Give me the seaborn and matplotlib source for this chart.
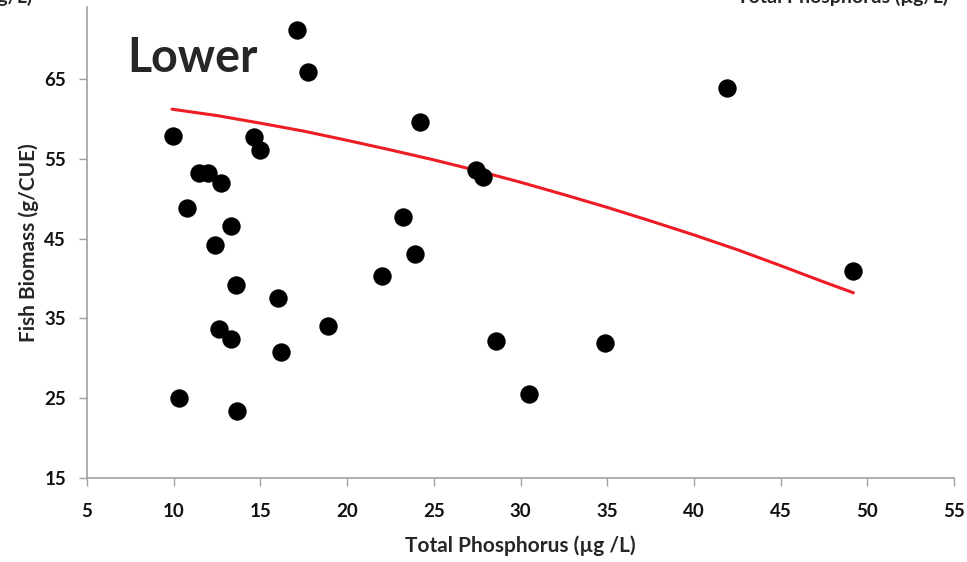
import numpy as np
import pandas as pd
import matplotlib
matplotlib.use("Agg")
import matplotlib.pyplot as plt
import seaborn as sns

# === DATA ===
tp = [9.96, 10.3, 10.77, 11.46, 11.98, 12.73, 12.38, 12.61, 13.3, 13.3,
      13.59, 13.65, 14.63, 14.98, 17.11, 17.75, 16.01, 16.19, 18.9, 22.01,
      23.22, 23.92, 24.2, 27.43, 27.84, 28.59, 30.49, 34.87, 41.9, 49.18]
biomass = [57.9, 25.0, 48.8, 53.2, 53.2, 52.0, 44.2, 33.7, 46.6, 32.4,
           39.2, 23.4, 57.7, 56.1, 71.1, 65.9, 37.6, 30.8, 34.0, 40.3,
           47.7, 43.1, 59.6, 53.6, 52.7, 32.2, 25.5, 31.9, 63.9, 40.9]

trend_x = [9.9, 12.5, 15, 17.5, 20, 22.5, 25, 27.5, 30, 32.5, 35, 37.5, 40, 42.5, 45, 47.5, 49.2]
trend_y = [61.2, 60.4, 59.45, 58.45, 57.3, 56.1, 54.85, 53.5, 52.05, 50.5, 48.9,
           47.2, 45.45, 43.6, 41.6, 39.55, 38.2]

x_ticks = list(range(5, 56, 5))
y_ticks = list(range(15, 66, 10))

pts = pd.DataFrame({"tp": tp, "biomass": biomass})
trend = pd.DataFrame({"tp": trend_x, "biomass": trend_y})

sns.set_style("ticks")
plt.rcParams['font.family'] = ['Lato', 'DejaVu Sans']

fig = plt.figure(figsize=(9.67, 5.62), dpi=100)
ax = fig.add_axes([0.09, 0.1495, 0.8966, 0.838])

sns.lineplot(data=trend, x="tp", y="biomass", ax=ax, color="#ee1c24", linewidth=2.2, zorder=2)
sns.scatterplot(data=pts, x="tp", y="biomass", ax=ax, color="black", s=175,
                edgecolor="black", linewidth=0, zorder=3)

ax.set_xlim(5, 55)
ax.set_ylim(15, 74)
ax.set_xticks(x_ticks)
ax.set_yticks(y_ticks)
ax.tick_params(axis="both", labelsize=13.5, length=6, width=1, color="#a0a0a0",
               labelcolor="#111111")
ax.tick_params(axis="x", pad=12)
ax.tick_params(axis="y", pad=9)
for lab in ax.get_xticklabels() + ax.get_yticklabels():
    lab.set_fontweight("bold")

for s in ["top", "right"]:
    ax.spines[s].set_visible(False)
for s in ["left", "bottom"]:
    ax.spines[s].set_color("#a0a0a0")
    ax.spines[s].set_linewidth(1.2)

ax.set_xlabel("Total Phosphorus (µg /L)", fontsize=15, fontweight="bold", labelpad=11)
ax.set_ylabel("Fish Biomass (g/CUE)", fontsize=15, fontweight="bold", labelpad=4)

ax.text(127 / 967, 1 - 72 / 562, "Lower", transform=fig.transFigure,
        fontsize=33.5, fontweight="bold", ha="left", va="baseline")

# bits of the neighbouring panel cut off at the top edge
fig.text(33 / 967, 1 - 3 / 562, "(µg/L)", fontsize=14, fontweight="bold",
         ha="right", va="baseline")
fig.text(948 / 967, 1 - 3 / 562, "Total Phosphorus (µg/L)", fontsize=14,
         fontweight="bold", ha="right", va="baseline")

fig.savefig("out.png", dpi=100)
